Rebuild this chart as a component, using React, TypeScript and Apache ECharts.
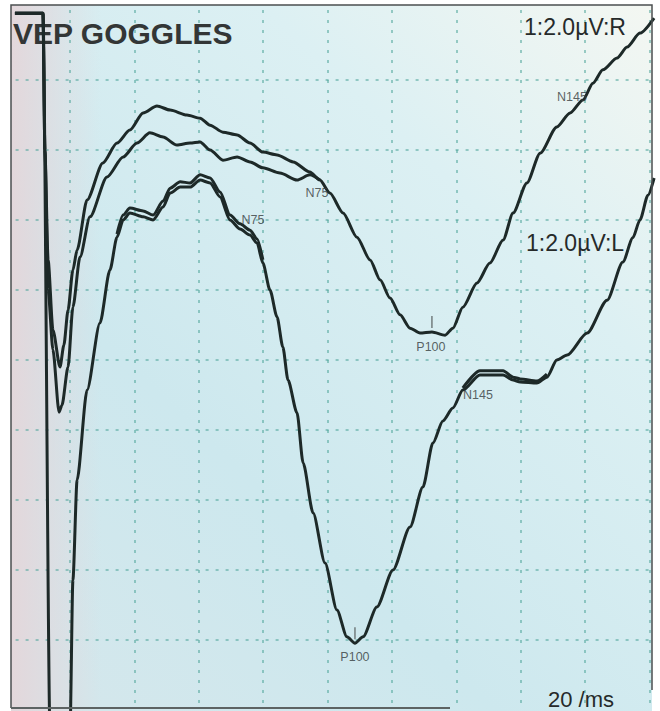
import React, { useEffect, useRef } from "react";
import * as echarts from "echarts";

// time in ms (20 ms / division), amplitude in µV (2 µV / division, positive down)
const TRACE_R1: [number, number][] = [
  [2.9, -9.91], [11.6, -9.91], [12.2, -6.0], [13.2, -2.86], [14.7, -0.86], [16.9, 0.2],
  [18.1, -0.43], [19.4, -1.43], [20.9, -2.57], [22.2, -3.14], [25.3, -4.57], [30.2, -5.63],
  [34.6, -6.2], [38.6, -6.57], [42.7, -7.06], [47.0, -7.26], [51.1, -7.14], [56.3, -7.0],
  [60.4, -6.91], [63.5, -6.71], [67.5, -6.51], [71.9, -6.43], [75.9, -6.2], [79.9, -5.94],
  [84.3, -5.86], [89.3, -5.66], [94.5, -5.37], [97.6, -5.14], [100.7, -4.77], [104.8, -4.2],
  [109.1, -3.51], [113.2, -2.86], [116.3, -2.29], [119.4, -1.77], [122.5, -1.29], [125.6, -0.91],
  [128.7, -0.77], [132.4, -0.8], [136.5, -0.71], [138.9, -0.91], [142.0, -1.51], [146.4, -2.2],
  [150.4, -2.77], [154.5, -3.43], [157.6, -4.2], [161.9, -5.06], [166.0, -5.91], [171.2, -6.66],
  [175.3, -7.06], [179.3, -7.43], [182.4, -7.91], [185.5, -8.29], [189.9, -8.63], [193.0, -8.94],
  [197.0, -9.34], [201.4, -9.77],
];

const TRACE_R2: [number, number][] = [
  [2.9, -9.91], [11.6, -9.91], [12.2, -6.0], [13.2, -2.0], [14.7, -0.29], [16.6, 1.49],
  [17.5, 1.29], [19.4, 0.2], [20.9, -1.51], [23.1, -2.94], [26.2, -4.09], [31.5, -5.23],
  [36.5, -5.8], [40.8, -6.2], [44.8, -6.49], [48.9, -6.37], [53.2, -6.14], [57.3, -6.2],
  [60.4, -6.23], [63.5, -6.0], [67.5, -5.71], [71.9, -5.8], [75.9, -5.66], [79.9, -5.49],
  [85.2, -5.34], [90.5, -5.14], [94.5, -5.29], [97.6, -5.14],
];

const TRACE_L1: [number, number][] = [
  [2.9, -9.91], [11.6, -9.91], [13.8, 10.6], [20.0, 10.6], [20.9, 6.29], [22.2, 3.43],
  [25.3, 0.86], [29.3, -1.06], [32.4, -2.57], [34.6, -3.51], [36.5, -4.0], [38.6, -4.2],
  [42.7, -4.09], [45.8, -4.0], [48.9, -4.37], [51.1, -4.77], [54.2, -4.94], [57.3, -4.94],
  [60.4, -5.14], [63.5, -5.06], [66.6, -4.66], [69.7, -4.0], [72.8, -3.74], [75.9, -3.57],
  [78.1, -3.34], [79.9, -2.77], [82.1, -2.0], [84.3, -1.23], [86.1, -0.37], [87.7, 0.57],
  [90.5, 1.51], [92.4, 2.94], [95.5, 4.37], [99.2, 5.8], [102.9, 7.14], [106.0, 7.91],
  [108.5, 8.09], [111.0, 7.91], [115.3, 7.06], [120.3, 6.0], [125.6, 4.77], [129.6, 3.63],
  [132.7, 2.37], [135.8, 1.74], [138.9, 1.37], [142.0, 0.86], [147.3, 0.43], [154.5, 0.43],
  [157.6, 0.57], [159.8, 0.63], [165.0, 0.66], [168.1, 0.49], [171.2, 0.0], [174.4, -0.14],
  [180.6, -0.77], [186.8, -1.71], [191.7, -2.8], [194.8, -3.49], [197.0, -4.0], [199.5, -4.71],
  [201.4, -5.2],
];

const TRACE_L2_EARLY: [number, number][] = [
  [34.6, -3.6], [36.5, -4.14], [38.6, -4.34], [42.7, -4.26], [45.8, -4.14], [48.9, -4.54],
  [51.1, -4.91], [54.2, -5.09], [57.3, -5.06], [60.4, -5.29], [63.5, -5.2], [66.6, -4.8],
  [69.7, -4.14], [72.8, -3.89], [75.9, -3.71], [78.1, -3.46], [79.9, -2.86],
];

const TRACE_L2_LATE: [number, number][] = [
  [142.0, 0.8], [147.3, 0.31], [154.5, 0.31], [157.6, 0.49], [159.8, 0.54], [165.0, 0.6],
  [168.1, 0.4],
];

const PEAK_NAMES = ["N75", "P100", "N145"];
const PEAKS_R: [number, number][] = [[94.5, -5.37], [132.4, -0.8], [175.9, -7.09]];
const PEAKS_L: [number, number][] = [[75.9, -3.57], [108.5, 8.09], [147.3, 0.43]];

const TITLE = "VEP GOGGLES";
const SCALE_R = "1:2.0µV:R";
const SCALE_L = "1:2.0µV:L";
const TIME_LABEL = "20 /ms";

const X_MIN = 0;
const X_MAX = 201.4;
const X_STEP = 20;
const Y_MIN = -10;
const Y_MAX = 10;
const Y_STEP = 2;

// style only
const LABEL_OFFSETS_R = [[7, 21], [-1, 15], [0, -15]];
const LABEL_OFFSETS_L = [[3, -15], [0, 14], [-2, 20]];
const TRACE_COLOR = "#1d2928";

export default function App() {
  const ref = useRef<HTMLDivElement>(null);

  useEffect(() => {
    if (!ref.current) return;
    const chart = echarts.init(ref.current, undefined, { renderer: "svg" });

    const traceSeries = (data: [number, number][], z = 3) => ({
      type: "line",
      data,
      showSymbol: false,
      smooth: 0.25,
      smoothMonotone: "x",
      clip: true,
      z,
      lineStyle: { color: TRACE_COLOR, width: 3 },
      silent: true,
    });

    const labelSeries = (peaks: [number, number][], offsets: number[][]) => ({
      type: "scatter",
      symbolSize: 0,
      z: 4,
      silent: true,
      data: peaks.map((p, i) => ({
        value: p,
        name: PEAK_NAMES[i],
        label: { offset: offsets[i] },
      })),
      label: {
        show: true,
        position: "inside",
        formatter: "{b}",
        color: "#353b3c",
        fontFamily: "Liberation Sans",
        fontSize: 12.5,
      },
    });

    const tickSeries = (peak: [number, number]) => ({
      type: "scatter",
      symbol: "rect",
      symbolSize: [1.5, 12],
      symbolOffset: [0, -10],
      itemStyle: { color: "#5a6060" },
      z: 4,
      silent: true,
      data: [peak],
    });

    const gridLine = {
      show: true,
      showMinLine: false,
      showMaxLine: false,
      lineStyle: { color: "rgba(80,165,155,0.55)", width: 2, type: [3, 7] },
    };

    const textStyle = (text: string, font: string, fill: string) => ({
      text,
      font,
      fill,
      verticalAlign: "top",
      align: "left",
    });

    chart.setOption({
      animation: false,
      backgroundColor: "#ffffff",
      grid: { left: 5.6, top: 10, width: 648.5, height: 700 },
      xAxis: {
        type: "value",
        min: X_MIN,
        max: X_MAX,
        interval: X_STEP,
        axisLine: { show: false },
        axisTick: { show: false },
        axisLabel: { show: false },
        splitLine: gridLine,
      },
      yAxis: {
        type: "value",
        inverse: true,
        min: Y_MIN,
        max: Y_MAX,
        interval: Y_STEP,
        axisLine: { show: false },
        axisTick: { show: false },
        axisLabel: { show: false },
        splitLine: gridLine,
      },
      graphic: [
        {
          type: "rect",
          z: -10,
          silent: true,
          shape: { x: 11, y: 5, width: 641, height: 706 },
          style: {
            fill: {
              type: "linear",
              x: 1, y: 0, x2: 0.15, y2: 1,
              colorStops: [
                { offset: 0, color: "#f4f7f2" },
                { offset: 0.3, color: "#dcf0f3" },
                { offset: 0.7, color: "#cde8ee" },
                { offset: 1, color: "#d3e7ec" },
              ],
            },
          },
        },
        {
          type: "rect",
          z: -9,
          silent: true,
          shape: { x: 11, y: 5, width: 90, height: 706 },
          style: {
            fill: {
              type: "linear",
              x: 0, y: 0, x2: 1, y2: 0,
              colorStops: [
                { offset: 0, color: "rgba(228,214,218,0.95)" },
                { offset: 1, color: "rgba(228,214,218,0)" },
              ],
            },
          },
        },
        {
          type: "rect",
          z: 10,
          silent: true,
          shape: { x: 0, y: 0, width: 10.5, height: 711 },
          style: { fill: "#ffffff" },
        },
        {
          type: "polyline",
          z: 10,
          silent: true,
          shape: { points: [[11, 708], [11, 5], [652, 5], [652, 690]] },
          style: { stroke: "#4b4f50", lineWidth: 1.5, fill: null },
        },
        {
          type: "line",
          z: 10,
          silent: true,
          shape: { x1: 11, y1: 708, x2: 450, y2: 708 },
          style: { stroke: "#5d6363", lineWidth: 2 },
        },
        {
          type: "text",
          z: 1,
          silent: true,
          x: 13,
          y: 18,
          style: textStyle(TITLE, "bold 30px 'Liberation Sans', Arial, sans-serif", "#333636"),
        },
        {
          type: "text",
          z: 5,
          silent: true,
          x: 524,
          y: 15,
          style: textStyle(SCALE_R, "23px 'Liberation Sans', Arial, sans-serif", "#262a2a"),
        },
        {
          type: "text",
          z: 5,
          silent: true,
          x: 526,
          y: 231,
          style: textStyle(SCALE_L, "23px 'Liberation Sans', Arial, sans-serif", "#262a2a"),
        },
        {
          type: "text",
          z: 11,
          silent: true,
          x: 548,
          y: 688,
          style: textStyle(TIME_LABEL, "22px 'Liberation Sans', Arial, sans-serif", "#262a2a"),
        },
      ],
      series: [
        traceSeries(TRACE_R1),
        traceSeries(TRACE_R2),
        traceSeries(TRACE_L1),
        traceSeries(TRACE_L2_EARLY),
        traceSeries(TRACE_L2_LATE),
        labelSeries(PEAKS_R, LABEL_OFFSETS_R),
        labelSeries(PEAKS_L, LABEL_OFFSETS_L),
        tickSeries(PEAKS_R[1]),
        tickSeries(PEAKS_L[1]),
      ],
    });

    return () => chart.dispose();
  }, []);

  return (
    <div
      ref={ref}
      style={{ position: "fixed", left: 0, top: 0, width: 660, height: 711, background: "#fff" }}
    />
  );
}
